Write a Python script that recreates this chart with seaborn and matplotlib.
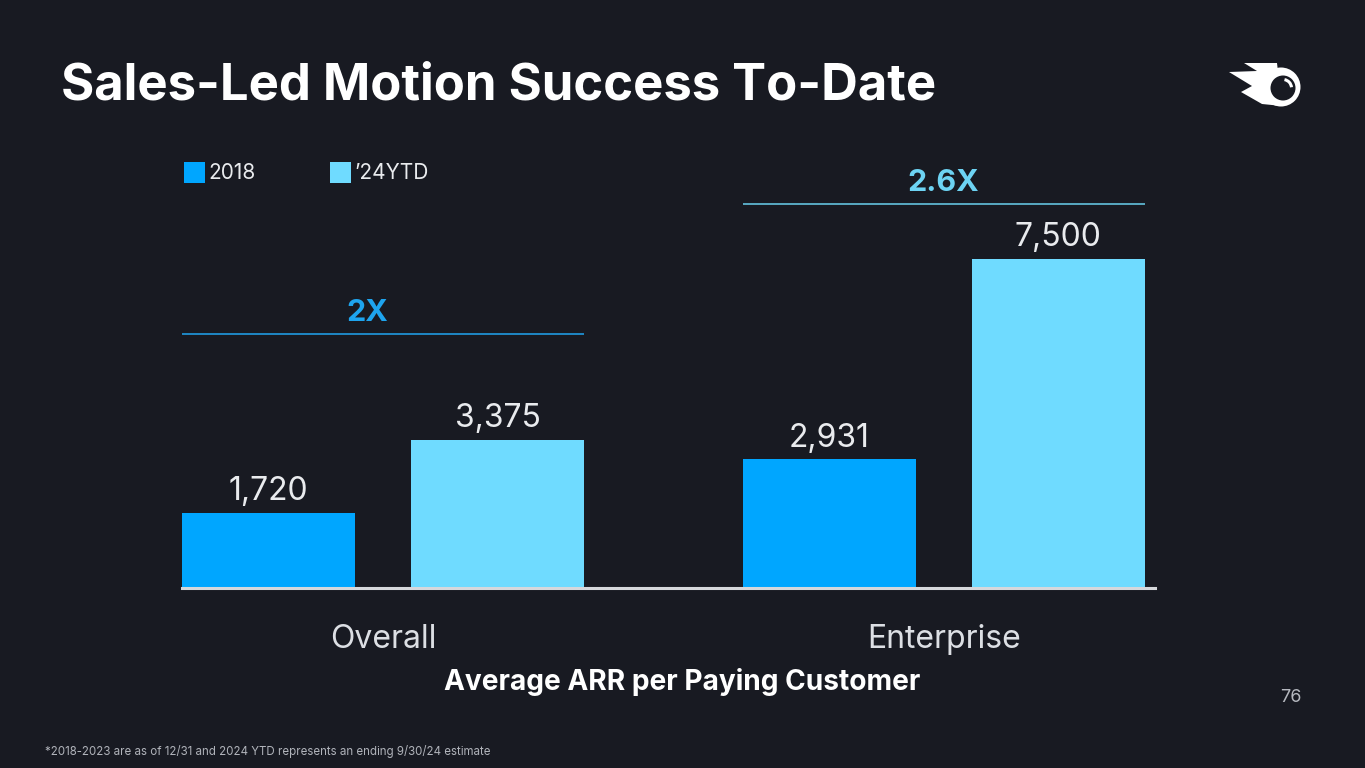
import matplotlib
matplotlib.use("Agg")
import matplotlib.pyplot as plt
import seaborn as sns
import pandas as pd
from matplotlib.patches import Rectangle, Circle, Polygon, Arc
from matplotlib.transforms import IdentityTransform

# data
segments = ["Overall", "Enterprise"]
periods = ["2018", "\u201924YTD"]
arr_2018 = [1720, 2931]
arr_24ytd = [3375, 7500]
bracket_heights = [5800, 8750]
label_nudge = [-0.029, 0.0]

title = "Sales-Led Motion Success To-Date"
xlabel = "Average ARR per Paying Customer"
footnote = "*2018-2023 are as of 12/31 and 2024 YTD represents an ending 9/30/24 estimate"
page_no = "76"

BG = "#181a22"
C_2018 = "#00a6ff"
C_24 = "#6fdbff"
TXT = "#e9ebee"

df = pd.DataFrame({
    "segment": segments * 2,
    "period": [periods[0]] * 2 + [periods[1]] * 2,
    "arr": arr_2018 + arr_24ytd,
})

sns.set_theme(style="white")
plt.rcParams["font.family"] = ["Inter", "DejaVu Sans"]

W, H = 1365, 768
fig = plt.figure(figsize=(W / 100, H / 100), dpi=100, facecolor=BG)


def fx(px):
    return px / W


def fy(py):
    return 1 - py / H


ax = fig.add_axes([fx(182), fy(588), fx(1155) - fx(182), (588 - 149.3) / H])
ax.set_facecolor(BG)

sns.barplot(data=df, x="segment", y="arr", hue="period", order=segments,
            hue_order=periods, palette=[C_2018, C_24], width=0.817, gap=0.2445,
            saturation=1, linewidth=0, legend=False, ax=ax)

ax.set_xlim(-0.3586, 1.377)
ax.set_ylim(0, 10000)
ax.set_yticks([])
ax.set_ylabel("")
ax.set_xlabel("")
for s in ["top", "right", "left"]:
    ax.spines[s].set_visible(False)
ax.spines["bottom"].set_color("#d6d8dc")
ax.spines["bottom"].set_linewidth(2.2)
ax.tick_params(axis="x", length=0, pad=26, labelsize=23, labelcolor="#dcdfe4")

for cont in ax.containers:
    ax.bar_label(cont, labels=[f"{v:,.0f}" for v in cont.datavalues],
                 padding=4, fontsize=23, color=TXT)

# multiplier brackets
line_cols = ["#1f90d2", "#5db4cf"]
txt_cols = ["#1ea4ee", "#6dd3f3"]
for i in range(len(segments)):
    b0 = ax.containers[0][i]
    b1 = ax.containers[1][i]
    x0 = b0.get_x()
    x1 = b1.get_x() + b1.get_width()
    yb = bracket_heights[i]
    ax.plot([x0, x1], [yb, yb], color=line_cols[i], lw=1.3, solid_capstyle="butt")
    r = arr_24ytd[i] / arr_2018[i]
    lab = f"{r:.1f}".rstrip("0").rstrip(".") + "X"
    ax.annotate(lab, xy=((x0 + x1) / 2 + label_nudge[i], yb), xytext=(0, 5),
                textcoords="offset points", ha="center", va="bottom",
                fontsize=22, fontweight="bold", color=txt_cols[i])

# legend
for (lx, col, lab) in [(184, C_2018, periods[0]), (330, C_24, periods[1])]:
    fig.add_artist(Rectangle((fx(lx), fy(183)), 21 / W, 21 / H,
                             transform=fig.transFigure, color=col, lw=0))
    fig.text(fx(lx + 24), fy(173), lab, fontsize=15, color=TXT,
             va="center", ha="left")

fig.text(fx(61), fy(86), title, fontsize=36.6, fontweight="bold", color="white",
         va="center", ha="left")
fig.text(fx(682), fy(682), xlabel, fontsize=20.2, fontweight="bold", color="white",
         va="center", ha="center")
fig.text(fx(1302), fy(697), page_no, fontsize=13, color="#b5b8bf",
         va="center", ha="right")
fig.text(fx(45), fy(751), footnote, fontsize=8.3, color="#b0b3ba",
         va="center", ha="left")

# logo, drawn in pixel space
tp = IdentityTransform()


def px(x, y):
    return (x, H - y)


flame = [(1277, 63), (1244, 63), (1257, 71), (1229, 72), (1252, 86),
         (1241, 92), (1262, 104), (1282, 106)]
fig.add_artist(Polygon([px(a, b) for a, b in flame], closed=True,
                       transform=tp, color="white", lw=0))
fig.add_artist(Circle(px(1281, 87), 19.5, transform=tp, color="white", lw=0))
fig.add_artist(Circle(px(1283, 88), 12.5, transform=tp, color=BG, lw=0))
fig.add_artist(Arc(px(1283, 88), 17, 17, theta1=5, theta2=80, transform=tp,
                   color="white", lw=2.2))

fig.savefig("out.png", dpi=100, facecolor=BG)
